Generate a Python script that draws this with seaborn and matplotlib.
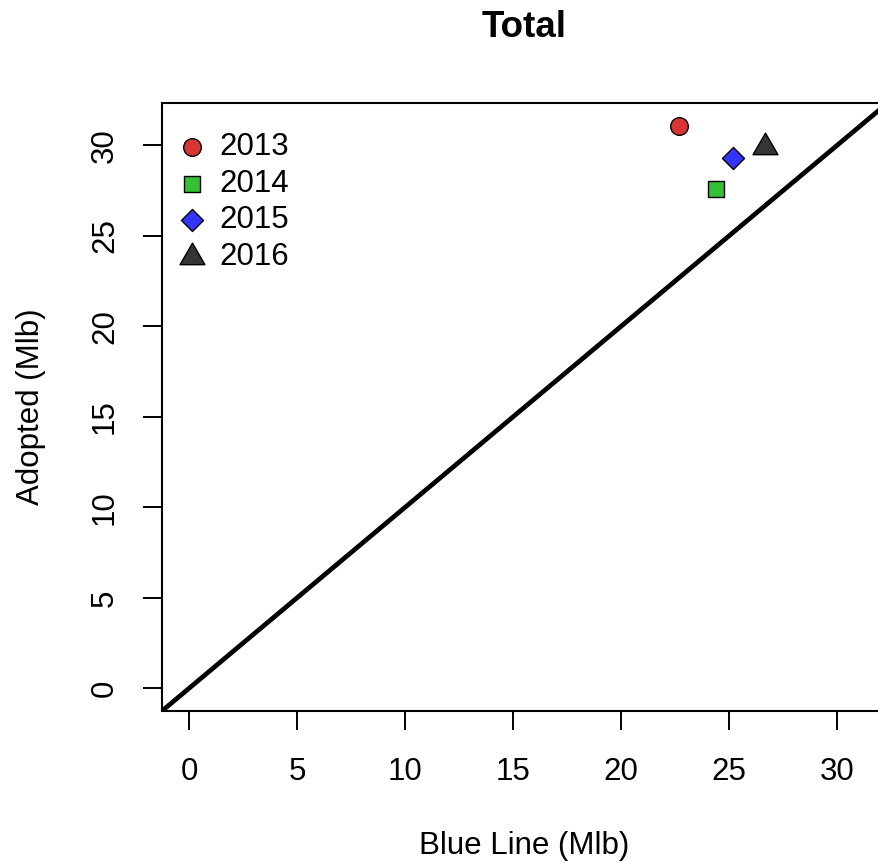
import matplotlib
matplotlib.use("Agg")
import matplotlib.pyplot as plt
import seaborn as sns
import pandas as pd
from matplotlib.path import Path

# Totals per year (million lb)
years = ["2013", "2014", "2015", "2016"]
blue_line = [22.67, 24.41, 25.17, 26.67]
adopted = [31.07, 27.57, 29.28, 29.92]
fill_colors = ["#DA3434", "#33C033", "#3434FF", "#353535"]
ticks = [0, 5, 10, 15, 20, 25, 30]

sns.set_style("ticks")
plt.rcParams["font.family"] = ["Liberation Sans", "DejaVu Sans"]
plt.rcParams.update({"text.color": "black", "axes.labelcolor": "black",
                     "xtick.color": "black", "ytick.color": "black"})

# equilateral triangle centred on its centroid
triangle = Path([(-0.5, -0.2887), (0.5, -0.2887), (0.0, 0.5774), (-0.5, -0.2887)], closed=True)
markers = ["o", "s", "D", triangle]
sizes = [161, 125, 126, 428]

df = pd.DataFrame({"year": years, "blue": blue_line, "adopted": adopted})

W, H = 879, 863
fig = plt.figure(figsize=(W / 100, H / 100), dpi=100)
left, right, top, bottom = 162.2, 887.0, 103.5, 710.8
ax = fig.add_axes([left / W, (H - bottom) / H, (right - left) / W, (bottom - top) / H])

lo, hi = 0.0, max(adopted)
pad = 0.04 * (hi - lo)
ax.set_xlim(lo - pad, hi + pad)
ax.set_ylim(lo - pad, hi + pad)

# 1:1 reference line
ax.axline((0, 0), slope=1, color="black", lw=3.4, zorder=1)

for i, row in df.iterrows():
    sns.scatterplot(x=[row["blue"]], y=[row["adopted"]], ax=ax, marker=markers[i],
                    s=sizes[i], color=fill_colors[i], edgecolor="black",
                    linewidth=1.0, label=row["year"], zorder=3)

for side in ["left", "right", "top", "bottom"]:
    ax.spines[side].set_visible(True)
    ax.spines[side].set_color("black")
    ax.spines[side].set_linewidth(1.5)

ax.set_xticks(ticks)
ax.set_yticks(ticks)
ax.tick_params(axis="both", length=13.7, width=1.4, labelsize=22.5, colors="black")
ax.tick_params(axis="x", pad=19.3)
ax.tick_params(axis="y", pad=16.6, labelrotation=90)
for lbl in ax.get_yticklabels():
    lbl.set_va("center")

ax.set_xlabel("Blue Line (Mlb)", fontsize=22.5, va="center", color="black")
ax.set_ylabel("Adopted (Mlb)", fontsize=22.5, va="center", color="black")
ax.xaxis.set_label_coords(0.5, (bottom - 846) / (bottom - top))
ax.yaxis.set_label_coords((31 - left) / (right - left), 0.5)

ax.set_title("Total", fontsize=26.5, fontweight="bold", y=(bottom - 37.3) / (bottom - top),
             va="baseline", pad=0, color="black")

ax.legend(loc="upper left", bbox_to_anchor=(0.015, 0.9526), frameon=False, fontsize=22.5,
          handlelength=1.2, handletextpad=0.28, labelspacing=0.21, borderpad=0,
          borderaxespad=0, labelcolor="black")

fig.savefig("out.png", dpi=100)
